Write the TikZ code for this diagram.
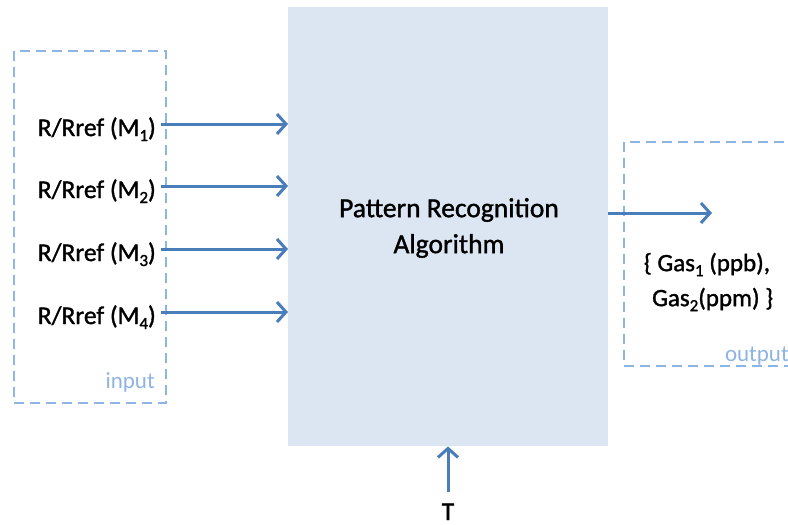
\documentclass[tikz,border=0pt]{standalone}
\usepackage{fontspec}
\setmainfont{Carlito}
\newfontfamily\heavy{Carlito}[FakeBold=1.3]
\usetikzlibrary{arrows.meta}
\definecolor{arrblue}{HTML}{4A7EBB}
\definecolor{dashblue}{HTML}{8EB4E3}
\definecolor{boxfill}{HTML}{DCE6F2}
\newcommand{\mysub}[1]{\raisebox{-5pt}{\fontsize{17}{20}\selectfont #1}}
\tikzset{
  arr/.style={draw=arrblue, line width=3pt, -{Straight Barb[length=9pt,width=20pt,line width=3pt]}},
  dbox/.style={draw=dashblue, line width=2.4pt, dash pattern=on 10pt off 6pt},
  lbl/.style={font=\heavy\fontsize{25.5}{35}\selectfont, text=black, inner sep=0pt},
  tag/.style={font=\fontsize{23}{26}\selectfont, text=dashblue, inner sep=0pt},
}
\begin{document}
\begin{tikzpicture}[x=1pt,y=-1pt]
\useasboundingbox (0,0) rectangle (788,525);
% main block
\node[fill=boxfill, minimum width=320pt, minimum height=439pt, inner sep=0pt, anchor=north west] (box) at (288,7) {};
\node[lbl, align=center, font=\heavy\fontsize{27.5}{36}\selectfont] (alg) at (449,228) {Pattern Recognition\\Algorithm};
% input dashed box
\draw[dbox] (14,51) rectangle (166,403);
\node[tag, anchor=base east] (in) at (155,388) {input};
% output dashed box
\draw[dbox] (800,142) -| (624,366) -- (800,366);
\node[tag, anchor=base east] (out) at (789,361) {output};
% input labels
\node[lbl, anchor=base east] (m1) at (156,136) {R/Rref (M\mysub{1})};
\node[lbl, anchor=base east] (m2) at (156,198) {R/Rref (M\mysub{2})};
\node[lbl, anchor=base east] (m3) at (156,261) {R/Rref (M\mysub{3})};
\node[lbl, anchor=base east] (m4) at (156,324) {R/Rref (M\mysub{4})};
\coordinate (a1) at (161,124);
\coordinate (a2) at (161,186);
\coordinate (a3) at (161,249);
\coordinate (a4) at (161,312);
\draw[arr] (a1) -- (a1 -| box.west);
\draw[arr] (a2) -- (a2 -| box.west);
\draw[arr] (a3) -- (a3 -| box.west);
\draw[arr] (a4) -- (a4 -| box.west);
% output
\coordinate (oe) at (712,213);
\draw[arr] (oe -| box.east) -- (oe);
\node[lbl, align=center, font=\heavy\fontsize{25}{35}\selectfont] (gas) at (707,282) {\{ Gas\mysub{1} (ppb),\\ \ \ Gas\mysub{2}(ppm) \}};
% T
\node[lbl, anchor=base] (t) at (448,520) {T};
\coordinate (tb) at (448,492);
\draw[arr] (tb) -- (tb |- box.south);
\end{tikzpicture}
\end{document}
